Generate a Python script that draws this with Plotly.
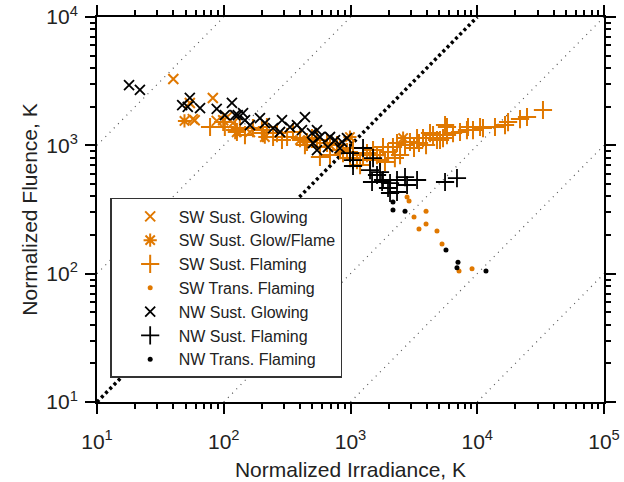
import plotly.graph_objects as go

ORANGE = "#E07800"

# ---------------- data (Normalized Irradiance K, Normalized Fluence K) ----------------
sw_glow_x = [40, 82, 54, 57, 59, 88, 99, 106, 118, 161]
sw_glow_y = [3290, 2340, 2140, 1600, 1570, 1550, 1570, 1660, 1490, 1270]

sw_gf_x = [49, 127, 211, 400, 689, 990, 2600]
sw_gf_y = [1550, 1270, 1160, 1100, 1005, 1160, 1140]

sw_flam_x = [78, 99, 102, 123, 127, 134, 147, 170, 200, 204, 219, 245, 263, 288, 316, 352,
             400, 437, 454, 497, 544, 574, 653, 689, 574, 782, 826, 873, 938, 991, 1047, 1125,
             1256, 1349, 1426, 1506, 1619, 1710, 1805, 1977, 2163, 2328, 2460, 2692, 2946, 3170,
             3350, 3470, 3733, 3945, 4240, 4480, 4812, 5083, 5370, 5570, 5770, 5770, 6440, 7311,
             8297, 8451, 9256, 10520, 11100, 13800, 16560, 17500, 21750, 24700, 33000,
             1190, 1870, 2240]
sw_flam_y = [1389, 1520, 1390, 1316, 1270, 1364, 1203, 1364, 1316, 1247, 1389, 1161, 1247, 1100, 1161, 1270,
             1140, 1005, 1062, 1140, 1100, 970, 1043, 840, 811, 1005, 919, 871, 887, 796, 953, 768,
             840, 871, 768, 919, 840, 768, 970, 887, 970, 1043, 840, 1005, 1062, 953,
             1140, 1043, 1140, 1005, 1247, 1203, 1100, 1100, 1140, 1439, 1389, 1203, 1247, 1270,
             1316, 1389, 1316, 1389, 1364, 1389, 1439, 1519, 1603, 1662, 1885,
             702, 741, 796]

sw_trans_x = [2793, 2897, 3945, 3170, 3945, 3470, 4812, 5272, 7178, 9095]
sw_trans_y = [395, 368, 307, 276, 244, 223, 215, 170, 105, 109]

nw_glow_x = [17.9, 21.8, 54, 47, 65, 88, 52, 116, 129, 102, 123, 142, 147, 193, 211, 288,
             245, 278, 378, 437, 414, 497, 544, 574, 689, 755, 857, 506, 544, 664, 826, 938,
             333, 161]
nw_glow_y = [2950, 2700, 2340, 2060, 1950, 1920, 1990, 2140, 1720, 1720, 1720, 1785, 1574, 1632, 1492, 1574,
             1364, 1270, 1439, 1662, 1316, 1247, 1316, 1161, 1161, 1100, 1062, 1043, 919, 970, 953, 1140,
             1389, 1439]

nw_flam_x = [1047, 1047, 1256, 1506, 1426, 1619, 1479, 1775, 2051, 1977, 2328, 2692, 2793, 3350,
             2328, 2051, 5570, 6918, 1710, 1805, 991]
nw_flam_y = [768, 690, 953, 796, 642, 587, 518, 518, 508, 465, 537, 566, 491, 537,
             433, 425, 518, 556, 619, 537, 871]

nw_trans_x = [2163, 2163, 2692, 5666, 7047, 6918, 11720]
nw_trans_y = [361, 313, 307, 153, 123, 111, 105]

# reference lines y = k * x
ratio_factors = [100, 10, 0.1, 0.01, 0.001]
axis_lo, axis_hi = 10, 1e5
fluence_hi = 1e4

tick_vals = [10, 100, 1000, 10000, 100000]
tick_text = ["10<sup>1</sup>", "10<sup>2</sup>", "10<sup>3</sup>", "10<sup>4</sup>", "10<sup>5</sup>"]
ytick_vals = [10, 100, 1000, 10000]
ytick_text = ["10<sup>1</sup>", "10<sup>2</sup>", "10<sup>3</sup>", "10<sup>4</sup>"]

FONT = "Liberation Sans"

fig = go.Figure()

# thin dotted guide lines
for k in ratio_factors:
    x0 = max(axis_lo, 10 / k)
    x1 = min(axis_hi, fluence_hi / k)
    fig.add_trace(go.Scatter(x=[x0, x1], y=[k * x0, k * x1], mode="lines",
                             line=dict(color="#555555", width=1.2, dash="1px,5px"),
                             showlegend=False, hoverinfo="skip"))
# 1:1 line
fig.add_trace(go.Scatter(x=[10, fluence_hi], y=[10, fluence_hi], mode="lines",
                         line=dict(color="black", width=3.5, dash="3px,3px"),
                         showlegend=False, hoverinfo="skip"))

def add(name, x, y, symbol, color, size, lw):
    fig.add_trace(go.Scatter(
        x=x, y=y, mode="markers", name=name,
        marker=dict(symbol=symbol, size=size, color=color,
                    line=dict(color=color, width=lw))))

add("SW Sust. Glowing", sw_glow_x, sw_glow_y, "x-thin", ORANGE, 10, 2)
add("SW Sust. Glow/Flame", sw_gf_x, sw_gf_y, "asterisk", ORANGE, 11, 2)
add("SW Sust. Flaming", sw_flam_x, sw_flam_y, "cross-thin", ORANGE, 13, 2)
add("SW Trans. Flaming", sw_trans_x, sw_trans_y, "circle", ORANGE, 5, 0)
add("NW Sust. Glowing", nw_glow_x, nw_glow_y, "x-thin", "black", 10, 1.8)
add("NW Sust. Flaming", nw_flam_x, nw_flam_y, "cross-thin", "black", 13, 1.8)
add("NW Trans. Flaming", nw_trans_x, nw_trans_y, "circle", "black", 5, 0)

axis_common = dict(
    type="log", showgrid=False, zeroline=False, automargin=False,
    showline=True, linecolor="black", linewidth=2, mirror="ticks",
    ticks="outside", ticklen=10, tickwidth=2, tickcolor="black",
    minor=dict(ticks="outside", ticklen=5, tickwidth=1.5, tickcolor="black", dtick="D1", showgrid=False),
    tickfont=dict(family=FONT, size=21, color="#222"),
    title_font=dict(family=FONT, size=21, color="#222"),
)

fig.update_xaxes(**axis_common, range=[1, 5], tickvals=tick_vals, ticktext=tick_text,
                 title_text="Normalized Irradiance, K", ticklabelstandoff=10, title_standoff=10)
fig.update_yaxes(**axis_common, range=[1, 4], tickvals=ytick_vals, ticktext=ytick_text,
                 title_text="Normalized Fluence, K", ticklabelstandoff=3, title_standoff=3)

fig.update_layout(
    width=624, height=482,
    margin=dict(l=97, r=20, t=17, b=80),
    plot_bgcolor="white", paper_bgcolor="white",
    legend=dict(x=0.026, y=0.53, xanchor="left", yanchor="top",
                bgcolor="white", bordercolor="#333", borderwidth=1.5,
                font=dict(family=FONT, size=16, color="#222"),
                itemwidth=47, indentation=10),
)

fig.write_html("out.html", config={"displayModeBar": False},
               post_script="document.body.style.margin='0px';")
